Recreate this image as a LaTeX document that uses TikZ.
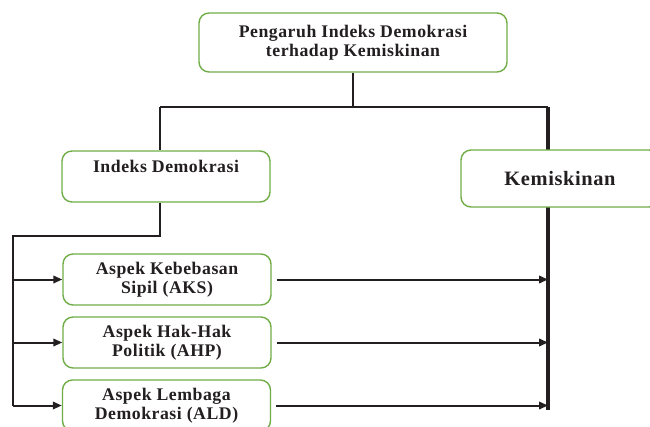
\documentclass[tikz,border=0pt]{standalone}
\usepackage{fontspec}
\setmainfont{Liberation Serif}
\newfontfamily\boxfont[LetterSpace=3]{Liberation Serif}
\usetikzlibrary{arrows.meta}
\definecolor{boxgreen}{RGB}{112,173,71}
\definecolor{ink}{RGB}{35,31,32}
\begin{document}
\begin{tikzpicture}[x=1bp,y=-1bp,
  box/.style={draw=boxgreen, line width=1.4bp, rounded corners=10bp, fill=white,
    align=center, text=ink, inner sep=0pt,
    font=\boxfont\bfseries\fontsize{17.8}{19}\selectfont},
  trunk/.style={draw=ink, line width=2.8bp},
  arr/.style={draw=ink, line width=2bp, -{Triangle[length=9bp,width=7.5bp]}}
]
\clip (0,0) rectangle (650,426);
\useasboundingbox (0,0) rectangle (650,426);
% trunk coordinates
\coordinate (tb) at (353,107);
\coordinate (lt) at (160,107);
\coordinate (rt) at (548,107);
\coordinate (rb) at (548,410);
\coordinate (ib) at (160,236);
\coordinate (lc) at (13,236);
% right trunk drawn behind the Kemiskinan box
\draw[trunk, line width=3.2bp] (rt) -- (rb);
% nodes
\node[box, minimum width=308bp, minimum height=59bp] (top) at (353,42.5)
  {Pengaruh Indeks Demokrasi\\terhadap Kemiskinan};
\node[box, minimum width=208bp, minimum height=51bp] (ind) at (166,176.5)
  {Indeks Demokrasi\\[-4bp]\strut};
\node[box, minimum width=198bp, minimum height=57bp,
  font=\boxfont\bfseries\fontsize{20.5}{22}\selectfont] (kem) at (560,178.5) {Kemiskinan};
\node[box, minimum width=208bp, minimum height=51bp] (aks) at (167,279.5)
  {Aspek Kebebasan\\Sipil (AKS)};
\node[box, minimum width=208bp, minimum height=51bp] (ahp) at (167,342.5)
  {Aspek Hak-Hak\\Politik (AHP)};
\node[box, minimum width=208bp, minimum height=51bp] (ald) at (166.5,405.5)
  {Aspek Lembaga\\Demokrasi (ALD)};
% connectors
\draw[trunk] (top.south) -- (tb);
\draw[trunk] (lt) -- (rt);
\draw[trunk] (lt) -- (lt |- ind.north);
\draw[trunk] (ind.south -| lt) -- (ib) -- (lc) -- (lc |- ald.west);
\draw[arr] (lc |- aks.west) -- (aks.west);
\draw[arr] (lc |- ahp.west) -- (ahp.west);
\draw[arr] (lc |- ald.west) -- (ald.west);
\draw[arr, shorten <=5bp] (aks.east) -- (rb |- aks.east);
\draw[arr, shorten <=5bp] (ahp.east) -- (rb |- ahp.east);
\draw[arr, shorten <=5bp] (ald.east) -- (rb |- ald.east);
\end{tikzpicture}
\end{document}
